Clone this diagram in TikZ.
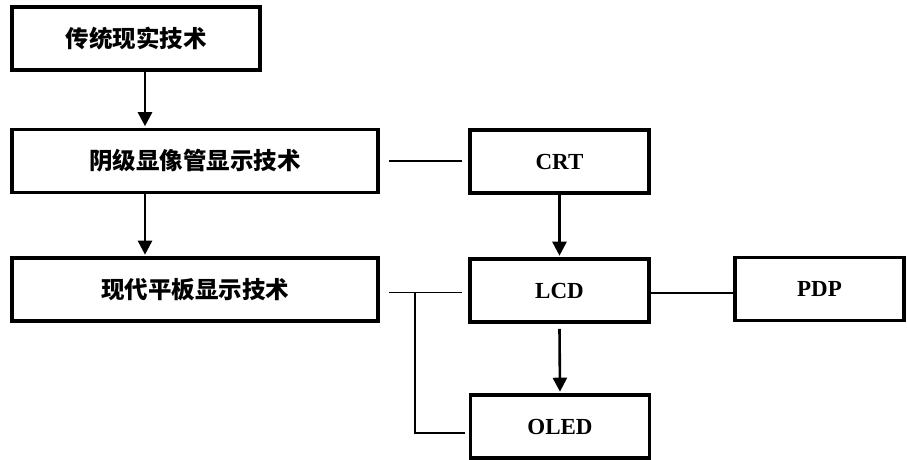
\documentclass[tikz,border=0pt]{standalone}
\usepackage{fontspec}
\setmainfont{Liberation Serif}
\newfontfamily\cjk{Noto Sans CJK SC}
\usetikzlibrary{arrows.meta}

\begin{document}
\begin{tikzpicture}[x=1pt, y=-1pt,
		box/.style={draw, line width=3.6pt, inner sep=0pt, minimum height=63pt},
		cnbox/.style={box, font=\cjk\bfseries\fontsize{23.5}{23.5}\selectfont},
		enbox/.style={box, minimum width=179pt, font=\bfseries\fontsize{23}{23}\selectfont},
		arr/.style={-{Triangle[length=14pt, width=14pt]}, line width=2.6pt, shorten >=1.5pt},
		link/.style={line width=1.6pt}]

		\useasboundingbox (0,0) rectangle (907,459);

		% colonne de gauche
		\node[cnbox, minimum width=248pt] (trad) at (136,38.5) {传统现实技术};
		\node[cnbox, minimum width=366pt] (crtt) at (195,161) {阴级显像管显示技术};
		\node[cnbox, minimum width=366pt] (flat) at (195,289.5) {现代平板显示技术};

		% colonne de droite
		\node[enbox] (crt) at (559.5,161.5) {CRT};
		\node[enbox] (lcd) at (559.5,290.5) {LCD};
		\node[enbox] (oled) at (560,426.5) {OLED};
		\node[enbox, minimum width=169pt] (pdp) at (819.5,289) {PDP};

		% fleches
		\draw[arr] ([xshift=9pt]trad.south) -- ([xshift=9pt]trad.south |- crtt.north);
		\draw[arr] ([xshift=-50pt]crtt.south) -- ([xshift=-50pt]crtt.south |- flat.north);
		\draw[arr] (crt.south) -- (lcd.north);
		\draw[arr] ([yshift=-5pt]lcd.south) -- (oled.north);

		% liaisons
		\coordinate (top) at ([xshift=9pt]crtt.east);
		\draw[link] (top) -- ([xshift=-6pt]top -| crt.west);
		\coordinate (left) at ([xshift=9pt, yshift=-3pt]flat.east);
		\draw[link] (left) -- ([xshift=-6pt]left -| lcd.west);
		\coordinate (branch) at ([xshift=26pt]left);
		\draw[link] (branch) |- ([xshift=-4pt, yshift=-6.5pt]oled.west);
		\draw[link] ([yshift=-2.5pt]lcd.east) -- ([yshift=-2.5pt]lcd.east -| pdp.west);

	\end{tikzpicture}
\end{document}
